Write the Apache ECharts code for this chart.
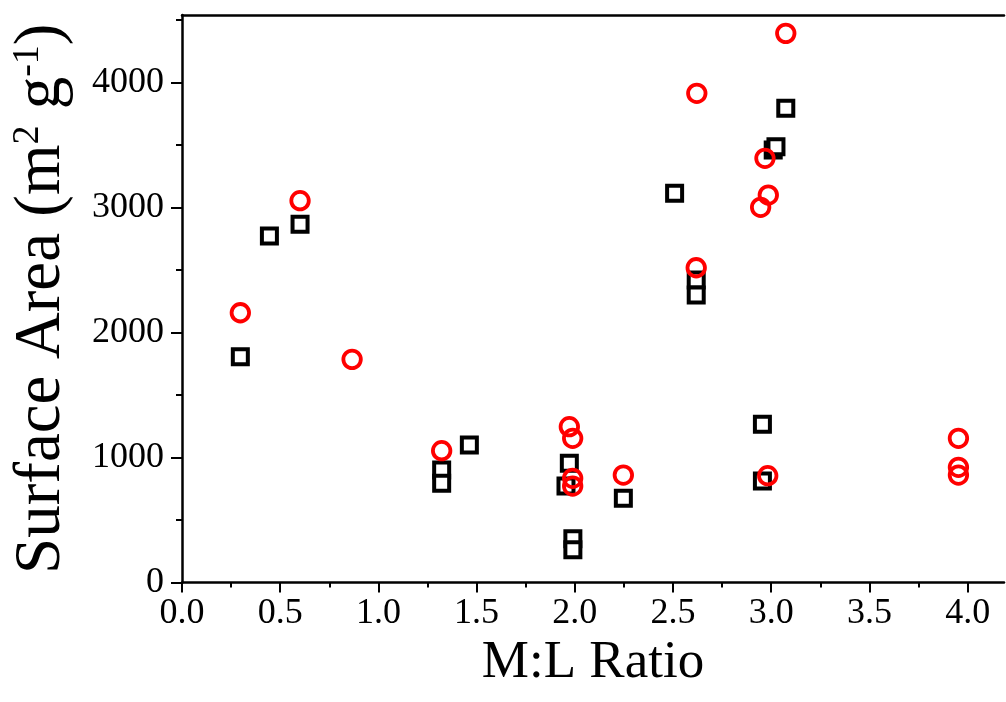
<!DOCTYPE html>
<html>
<head>
<meta charset="utf-8">
<script src="https://cdn.jsdelivr.net/npm/echarts@6/dist/echarts.min.js"></script>
<style>html,body{margin:0;padding:0;background:#fff}#c{width:1006px;height:702px}</style>
</head>
<body>
<div id="c"></div>
<script>
// M:L ratio (x) and surface area (y) for two series
const squaresX = [0.297, 0.445, 0.601, 1.322, 1.322, 1.463, 1.955, 1.972, 1.99, 1.99, 2.247, 2.508, 2.618, 2.618, 2.955, 2.955, 3.01, 3.024, 3.074];
const squaresY = [1807, 2773, 2867, 900, 794, 1100, 772, 954, 350, 262, 674, 3115, 2421, 2301, 1266, 812, 3461, 3488, 3795];
const circlesX = [0.297, 0.601, 0.866, 1.322, 1.972, 1.989, 1.989, 1.989, 2.247, 2.621, 2.618, 2.946, 2.968, 2.985, 2.982, 3.074, 3.953, 3.953, 3.953];
const circlesY = [2159, 3056, 1786, 1055, 1247, 1154, 834, 772, 860, 3915, 2519, 3003, 3395, 3101, 855, 4395, 1154, 922, 860];
const xMajorTicks = [0, 0.5, 1.0, 1.5, 2.0, 2.5, 3.0, 3.5, 4.0];
const xMinorTicks = [0.25, 0.75, 1.25, 1.75, 2.25, 2.75, 3.25, 3.75];
const yMajorTicks = [0, 1000, 2000, 3000, 4000];
const yMinorTicks = [500, 1500, 2500, 3500, 4500];
const xTitle = 'M:L Ratio';
const yTitle = 'Surface Area (m{sup|2} g{sup|-1})';

const font = 'Liberation Serif';
const pairs = (xs, ys) => xs.map((x, i) => [x, ys[i]]);
const XMAX = 4.185, YMAX = 4542;
const line = {color: '#000', width: 2.5};
const tickStyle = {color: '#000', width: 2};

const chart = echarts.init(document.getElementById('c'), null, {renderer: 'canvas'});
chart.setOption({
  animation: false,
  backgroundColor: '#fff',
  grid: {left: 182, top: 15, right: 2, height: 567.5, show: false, containLabel: false},
  xAxis: [{
    type: 'value', min: 0, max: XMAX, position: 'bottom',
    axisLine: {show: true, onZero: false, lineStyle: line},
    axisTick: {show: true, inside: false, length: 10, customValues: xMajorTicks, lineStyle: tickStyle},
    axisLabel: {customValues: xMajorTicks, formatter: v => v.toFixed(1), color: '#000', fontFamily: font, fontSize: 36, margin: 13},
    splitLine: {show: false},
    name: xTitle, nameLocation: 'middle', nameGap: 50,
    nameTextStyle: {color: '#000', fontFamily: font, fontSize: 53}
  }, {
    type: 'value', min: 0, max: XMAX, position: 'bottom',
    axisLine: {show: false, onZero: false},
    axisTick: {show: true, inside: false, length: 5, customValues: xMinorTicks, lineStyle: tickStyle},
    axisLabel: {show: false},
    splitLine: {show: false}
  }, {
    type: 'value', min: 0, max: XMAX, position: 'top',
    axisLine: {show: true, onZero: false, lineStyle: line},
    axisTick: {show: false},
    axisLabel: {show: false},
    splitLine: {show: false}
  }],
  yAxis: [{
    type: 'value', min: 0, max: YMAX, position: 'left',
    axisLine: {show: true, onZero: false, lineStyle: line},
    axisTick: {show: true, inside: false, length: 11, customValues: yMajorTicks, lineStyle: tickStyle},
    axisLabel: {customValues: yMajorTicks, formatter: v => String(v), color: '#000', fontFamily: font, fontSize: 36, margin: 18},
    splitLine: {show: false},
    name: yTitle, nameLocation: 'middle', nameGap: 108,
    nameTextStyle: {color: '#000', fontFamily: font, fontSize: 65,
      rich: {sup: {fontFamily: font, fontSize: 38, verticalAlign: 'top', color: '#000'}}}
  }, {
    type: 'value', min: 0, max: YMAX, position: 'left',
    axisLine: {show: false, onZero: false},
    axisTick: {show: true, inside: false, length: 6, customValues: yMinorTicks, lineStyle: tickStyle},
    axisLabel: {show: false},
    splitLine: {show: false}
  }],
  series: [{
    type: 'scatter', data: pairs(squaresX, squaresY), xAxisIndex: 0, yAxisIndex: 0,
    symbol: 'rect', symbolSize: 15,
    itemStyle: {color: '#fff', borderColor: '#000', borderWidth: 4, opacity: 1}, z: 2
  }, {
    type: 'scatter', data: pairs(circlesX, circlesY), xAxisIndex: 0, yAxisIndex: 0,
    symbol: 'circle', symbolSize: 17.5,
    itemStyle: {color: 'rgba(255,255,255,0)', borderColor: '#ff0000', borderWidth: 3.8, opacity: 1}, z: 3
  }]
});
</script>
</body>
</html>
